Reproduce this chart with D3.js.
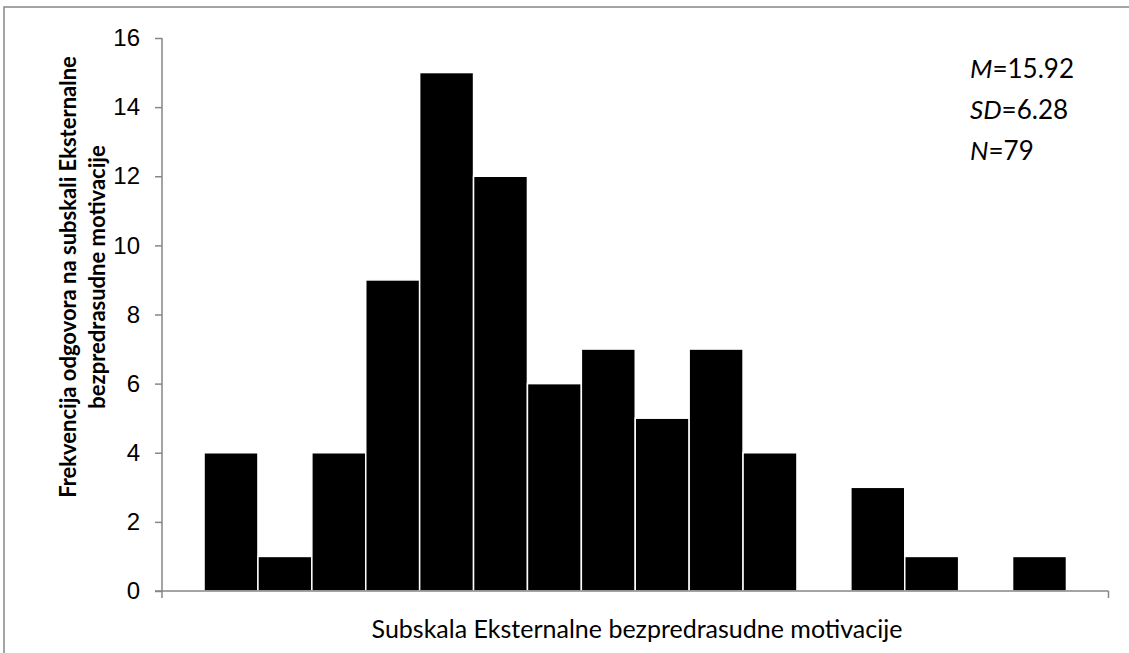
<!DOCTYPE html>
<html>
<head>
<meta charset="utf-8">
<script src="https://cdn.jsdelivr.net/npm/d3@7"></script>
<style>
  body { margin: 0; background: #fff; }
  svg { display: block; font-family: Lato, "Open Sans", sans-serif; }
</style>
</head>
<body>
<svg width="1129" height="653"></svg>
<script>
var width = 1129;
var height = 653;

// histogram bins (no labels shown on the axis)
var bins = d3.range(1, 17);
var counts = [4, 1, 4, 9, 15, 12, 6, 7, 5, 7, 4, 0, 3, 1, 0, 1];
var yTicks = [0, 2, 4, 6, 8, 10, 12, 14, 16];
var stats = [["M", "=15.92"], ["SD", "=6.28"], ["N", "=79"]];

var xTitle = "Subskala Eksternalne bezpredrasudne motivacije";
var yTitle = ["Frekvencija odgovora na subskali Eksternalne", "bezpredrasudne motivacije"];

var axisColor = "#868686";

var svg = d3.select("svg");

// outer chart border
svg.append("rect")
    .attr("x", 4).attr("y", 7)
    .attr("width", width).attr("height", height)
    .attr("fill", "none")
    .attr("stroke", axisColor)
    .attr("stroke-width", 1.5);

var x = d3.scaleBand()
    .domain(bins)
    .range([162, 1108.5])
    .paddingInner(0)
    .paddingOuter(0.78);

var y = d3.scaleLinear()
    .domain([0, 16])
    .range([591, 38]);

var g = svg.append("g");

// bars
g.selectAll(".bar")
    .data(counts)
  .enter().append("rect")
    .attr("class", "bar")
    .attr("x", function(d, i) { return x(bins[i]); })
    .attr("y", function(d) { return y(d); })
    .attr("width", x.bandwidth())
    .attr("height", function(d) { return y(0) - y(d); })
    .attr("fill", "#000")
    .attr("stroke", "#fff")
    .attr("stroke-width", 1.5);

// y axis
var yAxis = d3.axisLeft(y)
    .tickValues(yTicks)
    .tickSize(7)
    .tickPadding(15);

var ya = g.append("g")
    .attr("transform", "translate(162,0)")
    .call(yAxis);
ya.select(".domain").remove();
ya.selectAll(".tick line").attr("stroke", axisColor).attr("stroke-width", 1.5);
ya.selectAll(".tick text")
    .attr("fill", "#000")
    .style("font-size", "24px");

g.append("line")
    .attr("x1", 162).attr("x2", 162)
    .attr("y1", y(16)).attr("y2", 598)
    .attr("stroke", axisColor).attr("stroke-width", 1.5);

// x axis line with end ticks
g.append("line")
    .attr("x1", 155).attr("x2", 1108.5)
    .attr("y1", y(0)).attr("y2", y(0))
    .attr("stroke", axisColor).attr("stroke-width", 1.5);
g.append("line")
    .attr("x1", 1108.5).attr("x2", 1108.5)
    .attr("y1", y(0)).attr("y2", 598)
    .attr("stroke", axisColor).attr("stroke-width", 1.5);

// axis titles
svg.append("text")
    .attr("x", 637)
    .attr("y", 638)
    .attr("text-anchor", "middle")
    .style("font-size", "25px")
    .text(xTitle);

var yt = svg.append("text")
    .attr("transform", "translate(68,277) rotate(-90)")
    .attr("text-anchor", "middle")
    .style("font-size", "22px")
    .style("font-weight", "bold");
yt.selectAll("tspan")
    .data(yTitle)
  .enter().append("tspan")
    .attr("x", 0)
    .attr("dy", function(d, i) { return i === 0 ? "0.35em" : "1.32em"; })
    .text(function(d) { return d; });

// statistics
var st = svg.append("g")
    .selectAll("text")
    .data(stats)
  .enter().append("text")
    .attr("x", 970)
    .attr("y", function(d, i) { return 78 + i * 41; })
    .style("font-size", "26px");
st.append("tspan").style("font-style", "italic").text(function(d) { return d[0]; });
st.append("tspan").text(function(d) { return d[1]; });
</script>
</body>
</html>
